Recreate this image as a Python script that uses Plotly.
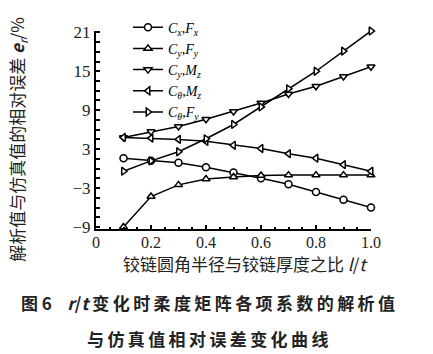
import plotly.graph_objects as go

# ---- data ----
ratio = [0.1, 0.2, 0.3, 0.4, 0.5, 0.6, 0.7, 0.8, 0.9, 1.0]
cx_fx = [1.6, 1.2, 0.9, 0.2, -0.6, -1.5, -2.4, -3.6, -4.8, -6.0]
cy_fy = [-9.0, -4.3, -2.5, -1.6, -1.3, -1.05, -1.0, -1.0, -1.0, -1.0]
cy_mz = [4.8, 5.7, 6.5, 7.6, 8.8, 10.1, 11.5, 12.7, 14.2, 15.7]
ct_mz = [4.8, 4.7, 4.5, 4.2, 3.6, 3.1, 2.3, 1.6, 0.6, -0.4]
ct_fy = [-0.4, 1.2, 2.6, 4.6, 6.8, 9.5, 12.3, 15.0, 18.1, 21.2]

series_names = [
    "<i>C</i><sub><i>x</i></sub>,<i>F</i><sub><i>x</i></sub>",
    "<i>C</i><sub><i>y</i></sub>,<i>F</i><sub><i>y</i></sub>",
    "<i>C</i><sub><i>y</i></sub>,<i>M</i><sub><i>z</i></sub>",
    "<i>C</i><sub><i>θ</i></sub>,<i>M</i><sub><i>z</i></sub>",
    "<i>C</i><sub><i>θ</i></sub>,<i>F</i><sub><i>y</i></sub>",
]
series_values = [cx_fx, cy_fy, cy_mz, ct_mz, ct_fy]
symbols = ["circle", "triangle-up", "triangle-down", "triangle-left", "triangle-right"]

x_tickvals = [0, 0.2, 0.4, 0.6, 0.8, 1.0]
x_ticktext = ["0", "0.2", "0.4", "0.6", "0.8", "1.0"]
y_tickvals = [-9, -3, 3, 9, 15, 21]
y_ticktext = ["−9", "−3", "3", "9", "15", "21"]

x_title = "铰链圆角半径与铰链厚度之比 <i>l</i>/<i>t</i>"
y_title = "解析值与仿真值的相对误差 <b><i>e</i></b><sub><i>r</i></sub>/%"
caption1 = "图\u00a06\u00a0\u00a0\u00a0\u00a0<i>r</i>/<i>t</i>\u00a0" + "\u2009".join("变化时柔度矩阵各项系数的解析值")
caption2 = "\u2009".join("与仿真值相对误差变化曲线")

serif = "Liberation Serif, DejaVu Serif, serif"
cjk = "Noto Sans CJK SC, sans-serif"

fig = go.Figure()
for name, vals, sym in zip(series_names, series_values, symbols):
    fig.add_trace(go.Scatter(
        x=ratio, y=vals, name=name, mode="lines+markers",
        line=dict(color="black", width=1.5),
        marker=dict(symbol=sym, size=7, color="white",
                    line=dict(color="black", width=1.5)),
        cliponaxis=False,
    ))

W, H = 433, 354
L, R, T, B = 96, 62, 25, 125

fig.update_layout(
    width=W, height=H,
    margin=dict(l=L, r=R, t=T, b=B),
    paper_bgcolor="white", plot_bgcolor="white",
    showlegend=True,
    legend=dict(
        x=(128 - L) / (W - L - R), y=(229 - 5) / (229 - 25),
        xanchor="left", yanchor="top",
        bgcolor="rgba(0,0,0,0)",
        font=dict(family=serif, size=14, color="black"),
        itemwidth=30, tracegroupgap=0,
    ),
    xaxis=dict(
        range=[0, 1.0], showgrid=False, zeroline=False,
        showline=True, linecolor="black", linewidth=2,
        tickvals=x_tickvals, ticktext=x_ticktext,
        ticks="inside", ticklen=4, tickwidth=1.5, tickcolor="black",
        tickfont=dict(family=serif, size=16, color="#222"),
        ticklabelstandoff=-2,
        minor=dict(dtick=0.05, tick0=0, ticks="inside", ticklen=2,
                   tickwidth=1.5, tickcolor="black"),
    ),
    yaxis=dict(
        range=[-9.3, 21.2], showgrid=False, zeroline=False,
        showline=True, linecolor="black", linewidth=2,
        tickvals=y_tickvals, ticktext=y_ticktext,
        ticks="inside", ticklen=4, tickwidth=1.5, tickcolor="black",
        tickfont=dict(family=serif, size=17, color="#222"),
        minor=dict(dtick=1.5, tick0=-9, ticks="inside", ticklen=4,
                   tickwidth=1.5, tickcolor="black"),
    ),
    font=dict(family=cjk, color="#222"),
)

annotations = [
    dict(text=x_title, x=245, y=H - 265, font=dict(family=cjk, size=17, color="#222")),
    dict(text=y_title, x=18, y=H - 137, textangle=-90,
         font=dict(family=cjk, size=17, color="#222")),
    dict(text="<b>" + caption1 + "</b>", x=208, y=H - 305,
         font=dict(family=cjk, size=17, color="#222")),
    dict(text="<b>" + caption2 + "</b>", x=207, y=H - 342,
         font=dict(family=cjk, size=17, color="#222")),
]
for a in annotations:
    fig.add_annotation(
        text=a["text"],
        x=(a["x"] - L) / (W - L - R), y=(a["y"] - B) / (H - T - B),
        xref="paper", yref="paper", xanchor="center", yanchor="middle",
        showarrow=False, textangle=a.get("textangle", 0), font=a["font"],
    )

fig.write_html("out.html")
